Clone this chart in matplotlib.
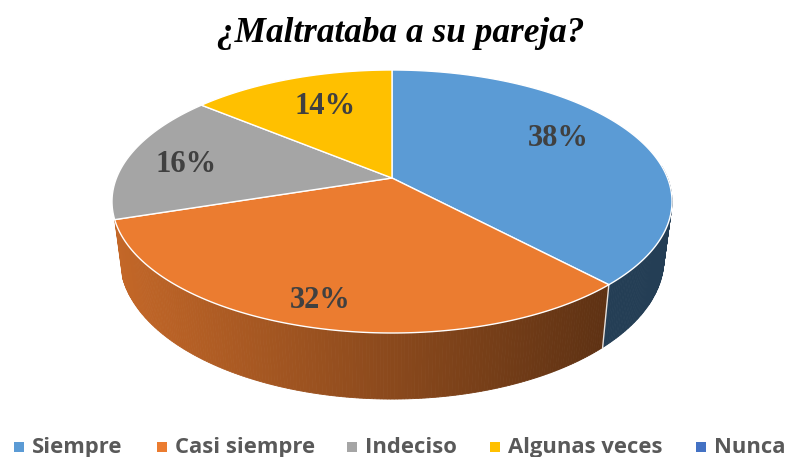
import numpy as np
import matplotlib
matplotlib.use("Agg")
import matplotlib.pyplot as plt
from matplotlib.patches import Polygon, Rectangle

title = "¿Maltrataba a su pareja?"
categories = ["Siempre", "Casi siempre", "Indeciso", "Algunas veces", "Nunca"]
values = [38, 32, 16, 14, 0]
colors = ["#5B9BD5", "#EB7C30", "#A5A5A5", "#FFC000", "#4472C4"]
wall_shown = [True, True, False, False, False]

# layout, in pixels of the 787x457 canvas
W, H = 787, 457
apex = (392, 178)
persp = 0.1787
scale_x, scale_y = 275.5, 127.3
top_c, top_r = (392, 201), (280, 131)
bot_c, bot_r = (392, 258), (272, 140)
label_xy = [(558, 139), (320, 301), (186, 165), (325, 107)]
legend_sq = [14, 157, 347, 490, 696]
legend_tx = [32, 175, 365, 508, 714]


def project(a, r=1.0):
    # flat pie -> picture, the centre sits above the middle of the ellipse
    x, y = r * np.cos(a), r * np.sin(a)
    d = 1 + persp * y
    return apex[0] + scale_x * x / d, apex[1] - scale_y * y / d


def drop(px, py):
    # top rim -> bottom rim of the wall
    return (bot_c[0] + (px - top_c[0]) * bot_r[0] / top_r[0],
            bot_c[1] + (py - top_c[1]) * bot_r[1] / top_r[1])


def shade(col, px):
    f = np.clip(0.83 - (px - 115) / (609 - 115) * 0.43, 0.4, 0.83)
    return tuple(np.array(matplotlib.colors.to_rgb(col)) * f)


fig = plt.figure(figsize=(W / 100, H / 100), dpi=100)
ax = fig.add_axes([0, 0, 1, 1])
ax.set_xlim(0, W)
ax.set_ylim(H, 0)
ax.axis("off")

edges = np.cumsum([0] + values) / sum(values)
angles = np.pi / 2 - edges * 2 * np.pi

# side wall
for i, col in enumerate(colors):
    if values[i] == 0 or not wall_shown[i]:
        continue
    t = np.linspace(angles[i], angles[i + 1], max(2, values[i] * 6))
    for a0, a1 in zip(t[:-1], t[1:]):
        if np.sin((a0 + a1) / 2) > 0.1:
            continue
        x0, y0 = project(a0)
        x1, y1 = project(a1)
        x2, y2 = drop(x1, y1)
        x3, y3 = drop(x0, y0)
        c = shade(col, (x0 + x1) / 2)
        ax.add_patch(Polygon([(x0, y0), (x1, y1), (x2, y2), (x3, y3)], fc=c, ec=c, lw=0.6, zorder=2))
    # white seam where two walls meet
    if np.sin(angles[i + 1]) < -0.5:
        x0, y0 = project(angles[i + 1])
        x3, y3 = drop(x0, y0)
        ax.plot([x0, x3], [y0, y3], color="white", lw=1.0, alpha=0.85, zorder=3)

# top face
for i, col in enumerate(colors):
    if values[i] == 0:
        continue
    t = np.linspace(angles[i], angles[i + 1], max(2, values[i] * 6))
    px, py = project(t)
    pts = [apex] + list(zip(px, py))
    ax.add_patch(Polygon(pts, closed=True, fc=col, ec="white", lw=1.0, joinstyle="round", zorder=4))

for v, (lx, ly) in zip(values, label_xy):
    ax.text(lx, ly, f"{v}%", ha="center", va="center", fontsize=22, fontweight="bold",
            family="Liberation Serif", color="#404040", zorder=5)

ax.text(401, 33, title, ha="center", va="center", fontsize=25.4, fontweight="bold", fontstyle="italic",
        family="Liberation Serif", color="black")

for sx, tx, name, col in zip(legend_sq, legend_tx, categories, colors):
    ax.add_patch(Rectangle((sx, 442), 10, 10, fc=col, ec="none"))
    ax.text(tx, 453, name, ha="left", va="baseline", fontsize=15.8, fontweight="bold",
            family="Open Sans", color="#595959")

fig.savefig("out.png", dpi=100, facecolor="white")
